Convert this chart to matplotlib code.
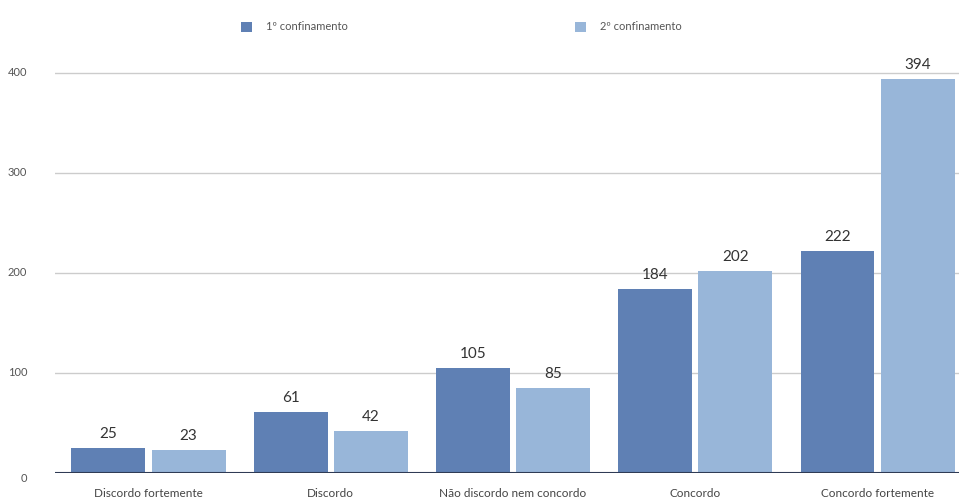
import numpy as np
import matplotlib
matplotlib.use("Agg")
from matplotlib import pyplot as plt

categories = ["Discordo fortemente", "Discordo", "Não discordo nem concordo", "Concordo", "Concordo fortemente"]
first = [25, 61, 105, 184, 222]
second = [23, 42, 85, 202, 394]
series_names = ["1º confinamento", "2º confinamento"]
yticks = [0, 100, 200, 300, 400]

plt.rcParams["font.family"] = ["Lato", "DejaVu Sans"]

c1 = "#5f80b4"
c2 = "#98b6d9"

fig = plt.figure(figsize=(9.59, 5), dpi=100)
ax = fig.add_axes([55 / 959, 0.054, 1 - 55 / 959, 0.84])

x = np.arange(len(categories))
w = 0.405
off = 0.22

b1 = ax.bar(x - off, first, w, color=c1, label=series_names[0], zorder=3)
b2 = ax.bar(x + off, second, w, color=c2, label=series_names[1], zorder=3)

for bars in (b1, b2):
    for b in bars:
        ax.text(b.get_x() + b.get_width() / 2, b.get_height() + 7, str(int(b.get_height())),
                ha="center", va="bottom", fontsize=11, color="#333333")

ax.set_xlim(-0.513, 4.447)
ax.set_ylim(0, 420)
ax.set_yticks(yticks)
ax.set_xticks(x)
ax.set_xticklabels(categories)
ax.tick_params(axis="y", length=0, labelsize=8, labelcolor="#555555", pad=20)
ax.tick_params(axis="x", length=0, labelsize=8.5, labelcolor="#444444", pad=11)
for lbl in ax.get_yticklabels():
    lbl.set_horizontalalignment("right")
    lbl.set_verticalalignment("top" if lbl.get_text() == "0" else "center")

ax.grid(axis="y", color="#cccccc", linewidth=1, zorder=0)
ax.axhline(0, color="#2f3b55", linewidth=1.5, zorder=4)
for s in ax.spines.values():
    s.set_visible(False)

fig.legend(handles=[b1, b2], labels=series_names, loc="center", ncol=2,
           bbox_to_anchor=(0.481, 0.946), frameon=False, fontsize=8, columnspacing=20.5,
           handlelength=1.0, handleheight=1.0, handletextpad=1.2, labelcolor="#555555")

fig.savefig("out.png", dpi=100)
